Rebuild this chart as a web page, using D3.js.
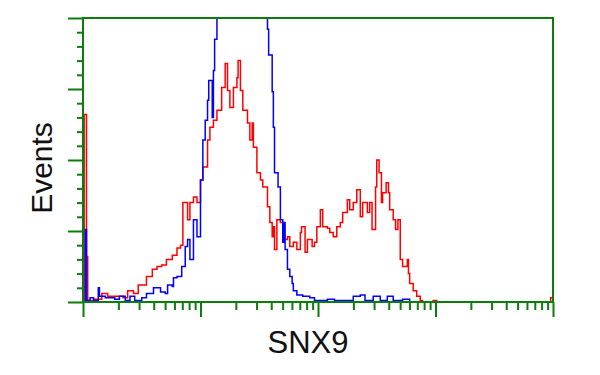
<!DOCTYPE html>
<html>
<head>
<style>
body { margin: 0; background: #fff; }
</style>
</head>
<body>
<svg id="histo"></svg>
<script src="https://cdnjs.cloudflare.com/ajax/libs/d3/7.8.5/d3.min.js"></script>
<script>
// fluorescence (log10 units, 0..4 decades) and event counts
var redLog = [0.00, 0.01, 0.03, 0.04, 0.10, 0.16, 0.21, 0.29, 0.34, 0.38, 0.43, 0.47, 0.54, 0.59, 0.63, 0.67, 0.71, 0.76, 0.80, 0.83,
  0.85, 0.89, 0.91, 0.94, 0.97, 1.00, 1.02, 1.06, 1.08, 1.11, 1.14, 1.17, 1.18, 1.21, 1.23, 1.25, 1.28, 1.31, 1.32, 1.34,
  1.36, 1.40, 1.42, 1.44, 1.45, 1.48, 1.51, 1.53, 1.57, 1.59, 1.61, 1.62, 1.63, 1.65, 1.68, 1.70, 1.74, 1.76, 1.79, 1.82,
  1.85, 1.86, 1.89, 1.91, 1.95, 1.97, 1.99, 2.02, 2.04, 2.08, 2.10, 2.13, 2.16, 2.19, 2.21, 2.25, 2.27, 2.30, 2.33, 2.36,
  2.38, 2.42, 2.44, 2.46, 2.49, 2.50, 2.52, 2.54, 2.55, 2.58, 2.60, 2.61, 2.64, 2.66, 2.68, 2.70, 2.72, 2.76, 2.77, 2.78,
  2.81, 2.84, 2.87, 2.89, 2.98, 3.01, 3.96, 3.98, 4.00];
var redCount = [0, 132, 32, 1, 2, 6, 4, 4, 3, 8, 6, 12, 18, 23, 25, 26, 30, 33, 38, 40,
  70, 58, 70, 74, 70, 86, 95, 114, 123, 128, 135, 135, 151, 168, 149, 137, 151, 158, 170, 149,
  135, 126, 114, 126, 109, 91, 86, 81, 67, 56, 46, 53, 37, 58, 56, 44, 46, 39, 42, 37,
  49, 53, 35, 44, 39, 42, 53, 65, 53, 52, 49, 46, 53, 56, 63, 72, 65, 70, 79, 60,
  70, 63, 70, 51, 81, 100, 91, 70, 77, 84, 77, 65, 58, 51, 58, 30, 25, 30, 20, 13,
  8, 4, 1, 0, 1, 0, 0, 3, 3];

var blueLog = [0.00, 0.01, 0.02, 0.03, 0.06, 0.09, 0.13, 0.14, 0.19, 0.23, 0.27, 0.31, 0.36, 0.40, 0.44, 0.50, 0.54, 0.60, 0.66, 0.70,
  0.72, 0.76, 0.77, 0.80, 0.84, 0.87, 0.89, 0.91, 0.94, 0.97, 1.00, 1.02, 1.04, 1.06, 1.07, 1.10, 1.11, 1.12, 1.14, 1.17,
  1.25, 1.34, 1.42, 1.51, 1.54, 1.57, 1.58, 1.61, 1.62, 1.63, 1.66, 1.68, 1.70, 1.71, 1.72, 1.74, 1.76, 1.78, 1.79, 1.82,
  1.87, 1.93, 1.97, 2.08, 2.14, 2.30, 2.33, 2.36, 2.40, 2.47, 2.53, 2.59, 2.64, 2.72, 2.78, 4.00];
var blueCount = [0, 0, 51, 1, 3, 1, 10, 4, 3, 3, 2, 4, 1, 4, 1, 3, 6, 10, 7, 6,
  12, 11, 17, 18, 25, 39, 44, 30, 58, 46, 86, 114, 128, 142, 156, 130, 163, 185, 200, 230,
  300, 340, 330, 270, 215, 192, 174, 148, 123, 91, 81, 58, 42, 56, 37, 23, 18, 13, 8, 5,
  4, 3, 1, 2, 1, 4, 4, 5, 1, 4, 1, 4, 1, 2, 0, 0];

var yMajor = [0, 50, 100, 150, 200];
var yMinor = [10, 20, 30, 40, 60, 70, 80, 90, 110, 120, 130, 140, 160, 170, 180, 190];
var decades = [0, 1, 2, 3, 4];
var subMultiples = [2, 3, 4, 5, 6, 7, 8, 9];

var width = 600, height = 375;
var plotLeft = 83, plotRight = 553, plotTop = 18, plotBottom = 302;
var green = '#0a7d0a';

var svg = d3.select('#histo')
  .attr('width', width)
  .attr('height', height);

var x = d3.scaleLinear().domain([0, 4]).range([plotLeft, plotRight]);
var y = d3.scaleLinear().domain([0, 200]).range([plotBottom, plotTop]);

svg.append('clipPath').attr('id', 'plotClip')
  .append('rect')
  .attr('x', plotLeft).attr('y', plotTop)
  .attr('width', plotRight - plotLeft).attr('height', plotBottom - plotTop);

var line = d3.line()
  .x(function(d) { return x(d[0]); })
  .y(function(d) { return y(d[1]); })
  .curve(d3.curveStepAfter);

function series(xs, ys) {
  return xs.map(function(v, i) { return [v, ys[i]]; });
}

var plot = svg.append('g').attr('clip-path', 'url(#plotClip)');

plot.append('path')
  .datum(series(redLog, redCount))
  .attr('fill', 'none')
  .attr('stroke', '#ff0000')
  .attr('stroke-width', 1.5)
  .attr('d', line);

plot.append('path')
  .datum(series(blueLog, blueCount))
  .attr('fill', 'none')
  .attr('stroke', '#0000ff')
  .attr('stroke-width', 1.5)
  .attr('d', line);

// frame
svg.append('rect')
  .attr('x', plotLeft).attr('y', plotTop)
  .attr('width', plotRight - plotLeft).attr('height', plotBottom - plotTop)
  .attr('fill', 'none')
  .attr('stroke', green)
  .attr('stroke-width', 2);

// log ticks on x
var minorX = [];
decades.slice(0, 4).forEach(function(k) {
  subMultiples.forEach(function(m) { minorX.push(k + Math.log10(m)); });
});

function styleAxis(g) {
  g.select('.domain').remove();
  g.selectAll('line').attr('stroke', green).attr('stroke-width', 2);
  g.selectAll('text').remove();
}

svg.append('g')
  .attr('transform', 'translate(0,' + plotBottom + ')')
  .call(d3.axisBottom(x).tickValues(decades).tickSize(15))
  .call(styleAxis);
svg.append('g')
  .attr('transform', 'translate(0,' + plotBottom + ')')
  .call(d3.axisBottom(x).tickValues(minorX).tickSize(8))
  .call(styleAxis);

svg.append('g')
  .attr('transform', 'translate(' + plotLeft + ',0)')
  .call(d3.axisLeft(y).tickValues(yMajor).tickSize(15))
  .call(styleAxis);
svg.append('g')
  .attr('transform', 'translate(' + plotLeft + ',0)')
  .call(d3.axisLeft(y).tickValues(yMinor).tickSize(6))
  .call(styleAxis);

svg.append('text')
  .attr('transform', 'translate(52,168) rotate(-90)')
  .attr('text-anchor', 'middle')
  .attr('font-family', 'Liberation Sans, Arial, sans-serif')
  .attr('font-size', 30)
  .attr('fill', '#111')
  .text('Events');

svg.append('text')
  .attr('x', 308)
  .attr('y', 353)
  .attr('text-anchor', 'middle')
  .attr('font-family', 'Liberation Sans, Arial, sans-serif')
  .attr('font-size', 31)
  .attr('fill', '#111')
  .text('SNX9');
</script>
</body>
</html>
